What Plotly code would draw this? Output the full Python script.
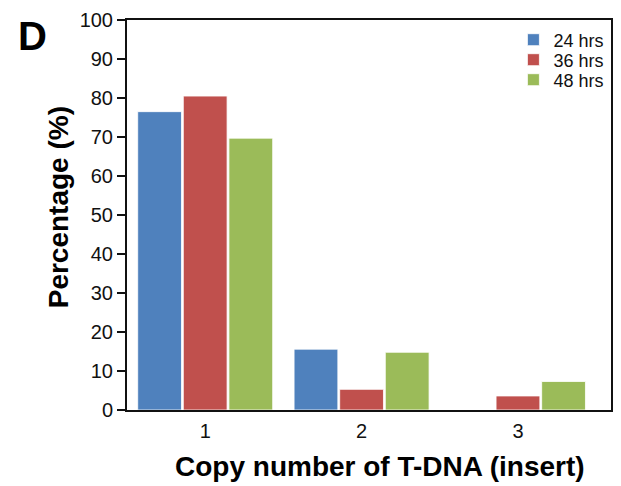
import plotly.graph_objects as go

categories = [1, 2, 3]
tick_labels = ["1", "2", "3"]
series_names = ["24 hrs", "36 hrs", "48 hrs"]
vals_24 = [76.5, 15.6, 0]
vals_36 = [80.5, 5.3, 3.6]
vals_48 = [69.7, 14.8, 7.3]
colors = ["#4F81BD", "#C0504D", "#9BBB59"]
x_title = "Copy number of T-DNA (insert)"
y_title = "Percentage (%)"

FONT = "Liberation Sans, Arial, sans-serif"

W, H = 621, 486
L, R, T, B = 127, 8, 20, 76
PW, PH = W - L - R, H - T - B


def px_x(p):
    return (p - L) / PW


def px_y(p):
    return 1 - (p - T) / PH


legend_ids = ["legend", "legend2", "legend3"]
legend_rows_px = [40, 60, 80]  # row centres in page pixels

fig = go.Figure()
for name, vals, col, lid in zip(series_names, [vals_24, vals_36, vals_48], colors, legend_ids):
    fig.add_trace(go.Bar(
        x=categories, y=vals, name=name, legend=lid,
        marker=dict(color=col, line=dict(color="rgba(255,255,255,0.8)", width=1)),
    ))

legend_common = dict(
    xanchor="left", yanchor="middle",
    font=dict(size=18, family=FONT, color="#111111"),
    bgcolor="rgba(0,0,0,0)", itemwidth=30,
)
layout_legends = {}
for lid, ypx in zip(legend_ids, legend_rows_px):
    layout_legends[lid] = dict(legend_common, x=px_x(515), y=px_y(ypx))

fig.update_layout(
    width=W, height=H,
    margin=dict(l=L, r=R, t=T, b=B),
    paper_bgcolor="white", plot_bgcolor="white",
    barmode="group", bargap=0.125, bargroupgap=0.04,
    font=dict(family=FONT, color="#111111"),
    showlegend=True,
    annotations=[
        dict(
            text="<b>D</b>", x=px_x(16), y=px_y(12),
            xref="paper", yref="paper",
            showarrow=False, font=dict(size=40, family=FONT, color="black"),
            xanchor="left", yanchor="top",
        ),
        dict(
            text="<b>" + x_title + "</b>", x=px_x(381), y=px_y(467),
            xref="paper", yref="paper",
            showarrow=False, font=dict(size=28, family=FONT, color="black"),
            xanchor="center", yanchor="middle",
        ),
        dict(
            text="<b>" + y_title + "</b>", x=px_x(58), y=px_y(207),
            xref="paper", yref="paper", textangle=-90,
            showarrow=False, font=dict(size=28, family=FONT, color="black"),
            xanchor="center", yanchor="middle",
        ),
    ],
    **layout_legends,
)

fig.update_xaxes(
    range=[0.5, 3.595], tickvals=categories, ticktext=tick_labels,
    showgrid=False, zeroline=False, ticks="outside", ticklen=2,
    tickcolor="rgba(0,0,0,0)",
    showline=True, linecolor="#111111", linewidth=2, mirror=True,
    tickfont=dict(size=20, family=FONT, color="#111111"),
)
fig.update_yaxes(
    range=[0, 100], tick0=0, dtick=10,
    showgrid=False, zeroline=False, ticks="outside", ticklen=8, tickwidth=2,
    tickcolor="#111111",
    showline=True, linecolor="#111111", linewidth=2, mirror=True,
    tickfont=dict(size=20, family=FONT, color="#111111"),
)

fig.write_html(
    "out.html",
    config={"displayModeBar": False},
    post_script="document.body.style.margin='0px';document.body.style.overflow='hidden';",
)
